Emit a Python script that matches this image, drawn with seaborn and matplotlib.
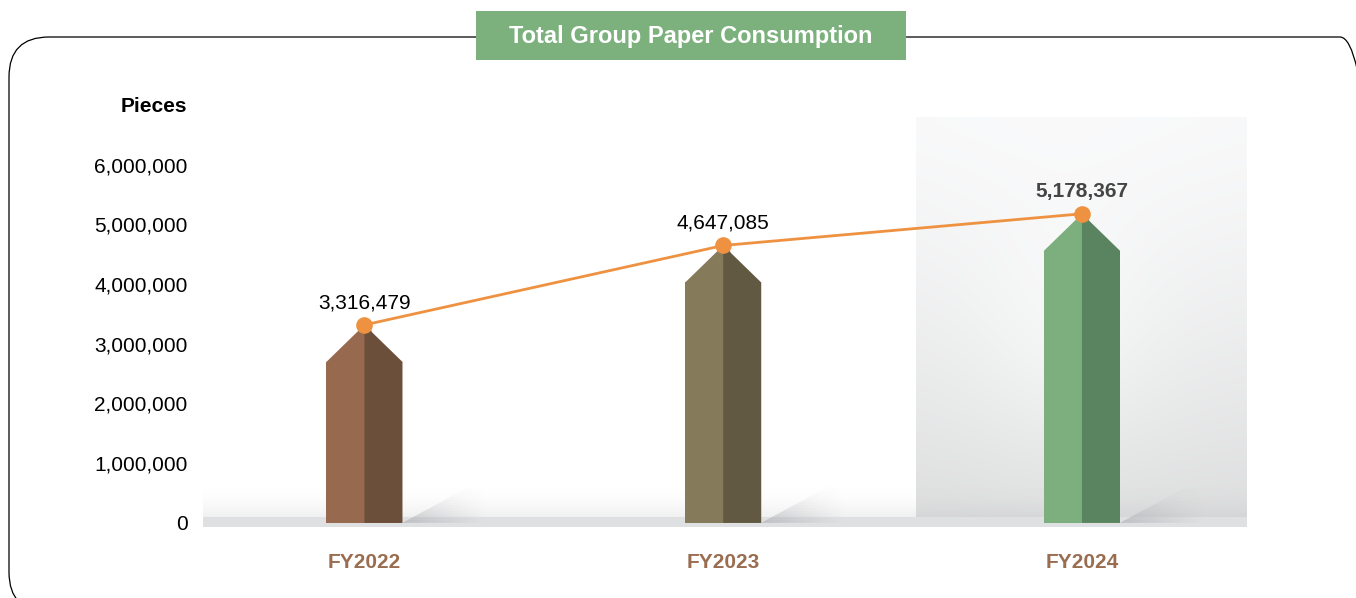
import numpy as np
import pandas as pd
import matplotlib
matplotlib.use("Agg")
import matplotlib.pyplot as plt
import seaborn as sns
from matplotlib.patches import Rectangle, FancyBboxPatch, Polygon
from matplotlib.collections import PolyCollection
from matplotlib.transforms import IdentityTransform

# data
years = ["FY2022", "FY2023", "FY2024"]
pieces = [3316479, 4647085, 5178367]
y_ticks = [0, 1000000, 2000000, 3000000, 4000000, 5000000, 6000000]
light_cols = ["#976a4f", "#857a5a", "#7caf7d"]
dark_cols = ["#6c4f3a", "#615942", "#5a835f"]
label_cols = ["#000000", "#000000", "#454545"]
label_weights = ["normal", "normal", "bold"]

# style
ORANGE = "#ee9241"
BROWN = "#9a6d51"
SHOULDER = 620000   # height of the pointed tip
HW = 0.106          # half bar width
SH_W, SH_H = 0.2, 650000  # shadow wedge size

sns.set_theme(style="white")
plt.rcParams["font.family"] = ["Liberation Sans", "DejaVu Sans"]

df = pd.DataFrame({"year": years, "pieces": pieces})
df["body"] = df["pieces"] - SHOULDER

W, H = 1356, 598
fig = plt.figure(figsize=(W / 100, H / 100), dpi=100)
ax = fig.add_axes([203 / W, 1 - 527 / H, 1044 / W, 410 / H])

ymin, ymax = -70000, 6800000
xmin, xmax = -0.45, 2.46

# highlighted background behind the latest year
ny, nx = 200, 120
yy, xx = np.mgrid[0:1:ny * 1j, 0:1:nx * 1j]
v = 0.985 - 0.11 * yy ** 1.3
r = np.sqrt(((xx - 0.45) / 0.9) ** 2 + ((yy - 0.55) / 1.0) ** 2)
v = v + 0.025 * np.exp(-(r / 0.3) ** 2) - 0.015 * r
v = np.clip(v, 0, 1)
bg = np.dstack([v, v + 0.002, v + 0.005]).clip(0, 1)
ax.imshow(bg, extent=[2 - 0.462, xmax, ymin, ymax], aspect="auto",
          origin="upper", zorder=0, interpolation="bilinear")

# baseline band: soft gradient drawn as thin strips
edges = np.linspace(0, 650000, 41)
for k in range(40):
    a = 0.30 * (1 - k / 40) ** 2.2
    ax.fill_between([xmin, xmax], edges[k], edges[k + 1], color="#b9babd",
                    alpha=a, linewidth=0, zorder=1)
ax.fill_between([xmin, xmax], ymin, 90000, color="#dfe0e2", linewidth=0, zorder=1)

# wedge shadows to the right of each bar, fading up and to the right
nr, nc = 24, 16
for i in range(len(years)):
    x0 = i + HW
    polys, cols = [], []
    for k in range(nr):
        y0, y1 = SH_H * k / nr, SH_H * (k + 1) / nr
        l0, l1 = x0 + SH_W * k / nr, x0 + SH_W * (k + 1) / nr
        r_ = x0 + SH_W * 1.15
        for j in range(nc):
            f0, f1 = j / nc, (j + 1) / nc
            polys.append([(l0 + (r_ - l0) * f0, y0), (l0 + (r_ - l0) * f1, y0),
                          (l1 + (r_ - l1) * f1, y1), (l1 + (r_ - l1) * f0, y1)])
            xf = (l0 + (r_ - l0) * (f0 + f1) / 2 - x0) / (r_ - x0)
            a = 0.7 * (1 - k / nr) ** 1.3 * (1 - xf) ** 1.2
            cols.append((0.68, 0.685, 0.70, a))
    ax.add_collection(PolyCollection(polys, facecolors=cols, edgecolors="none",
                                     linewidths=0, zorder=2))

# bar bodies
sns.barplot(data=df, x="year", y="body", hue="year", palette=light_cols,
            width=2 * HW, saturation=1, legend=False, linewidth=0,
            edgecolor="none", ax=ax, zorder=3)

# pointed tips and dark right halves
for i, val in enumerate(pieces):
    ax.add_patch(Polygon([(i - HW, val - SHOULDER - 30000), (i - HW, val - SHOULDER),
                          (i, val), (i + 0.02, val - 100000),
                          (i + 0.02, val - SHOULDER - 30000)],
                         closed=True, facecolor=light_cols[i], edgecolor="none", zorder=3))
    ax.add_patch(Polygon([(i, 0), (i, val), (i + HW, val - SHOULDER), (i + HW, 0)],
                         closed=True, facecolor=dark_cols[i], edgecolor="none", zorder=3))

# trend line
sns.lineplot(x=np.arange(len(years)), y=pieces, color=ORANGE, linewidth=2,
             marker="o", markersize=12, markeredgewidth=0, ax=ax, zorder=5)

for i, val in enumerate(pieces):
    ax.annotate(f"{val:,}", (i, val), xytext=(0, 9), textcoords="offset points",
                ha="center", va="bottom", fontsize=15, color=label_cols[i],
                fontweight=label_weights[i], zorder=6)

ax.set_xlim(xmin, xmax)
ax.set_ylim(ymin, ymax)
ax.set_yticks(y_ticks)
ax.set_yticklabels([f"{t:,}" for t in y_ticks], fontsize=15, color="black")
ax.set_xticks(range(len(years)))
ax.set_xticklabels(years, fontsize=15, fontweight="bold", color=BROWN)
ax.tick_params(axis="y", length=0, pad=11)
ax.tick_params(axis="x", length=0, pad=19)
ax.set_xlabel("")
ax.set_ylabel("")
for s in ax.spines.values():
    s.set_visible(False)
ax.patch.set_alpha(0)

fig.text(187 / W, 1 - 106 / H, "Pieces", ha="right", va="center",
         fontsize=15, fontweight="bold", color="black")

# rounded outer frame
frame = FancyBboxPatch((9, -14), 1371, 575, boxstyle="round,pad=0,rounding_size=40",
                       transform=IdentityTransform(), facecolor="none",
                       edgecolor="black", linewidth=0.9, zorder=0)
fig.patches.append(frame)

# title box
fig.patches.append(Rectangle((476, H - 60), 430, 49, transform=IdentityTransform(),
                             facecolor="#7cb17e", edgecolor="none", zorder=2))
fig.text(691 / W, 1 - 37 / H, "Total Group Paper Consumption", ha="center",
         va="center", fontsize=17, fontweight="bold", color="white", zorder=3)

fig.savefig("out.png", dpi=100)
